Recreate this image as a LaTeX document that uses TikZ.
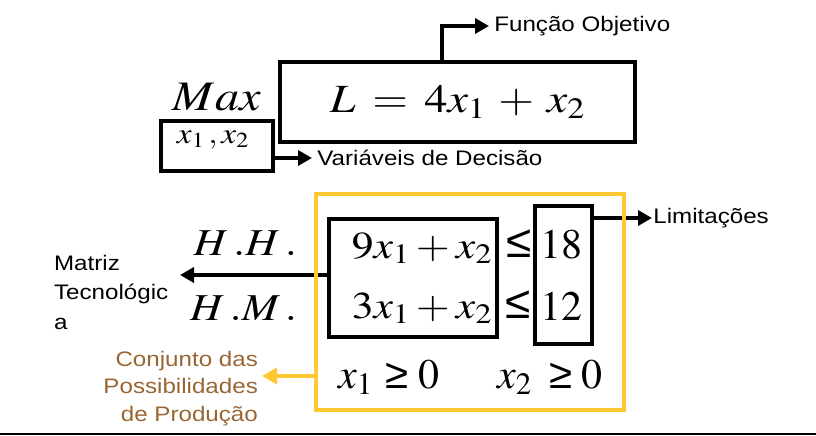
\documentclass[tikz,border=0pt]{standalone}
\usepackage{mathptmx}
\usepackage{graphicx}
\usepackage[no-math]{fontspec}
\newfontfamily\labelfont[FakeStretch=1.15]{Liberation Sans}
\newfontfamily\relfont{Liberation Sans}
\newcommand\stretchmath[1]{\scalebox{1.15}[1]{$#1$}}
\usetikzlibrary{arrows.meta}
\definecolor{possyellow}{RGB}{255,200,50}
\definecolor{possbrown}{RGB}{153,102,51}
\tikzset{every picture/.style={line width=0.75pt}}
\tikzset{
  boxframe/.style={draw, line width=4.5pt, inner sep=0pt},
  possframe/.style={draw=possyellow, line width=4.5pt, inner sep=0pt},
  mathtext/.style={inner sep=0.75pt, font=\fontsize{40}{48}\selectfont},
  labeltext/.style={inner xsep=5pt, inner ysep=0.75pt, font=\labelfont\fontsize{21}{28.5}\selectfont},
  reltext/.style={inner sep=0.75pt, font=\relfont\fontsize{46}{50}\selectfont},
  blackarrow/.style={line width=4pt, -{Triangle[length=14pt,width=15pt]}},
  possarrow/.style={draw=possyellow, line width=4pt, -{Triangle[length=15pt,width=16pt]}}
}

\begin{document}
\begin{tikzpicture}[x=1pt,y=1pt,yscale=-1,xscale=1]
\useasboundingbox (0,0) rectangle (816,436);

%Shape: Rectangle
\node [boxframe, minimum width=355pt, minimum height=80pt, font=\fontsize{40}{48}\selectfont] (lbox) at (457.5,102) {\stretchmath{L \:=\: 4x_1 \:+\: x_2}};
% Text Node
\node [mathtext, anchor=base east, font=\fontsize{42}{48}\selectfont] (maxop) at (262,110) {\stretchmath{Max}};
%Shape: Rectangle
\node [boxframe, minimum width=112pt, minimum height=50pt] (xbox) at (217,146) {};
% Text Node
\node [mathtext, anchor=base, font=\fontsize{29}{32}\selectfont] (xvars) at (213,143) {\stretchmath{x_1\,,x_2}};

% Text Node
\node [labeltext, anchor=west] (vardec) at (312,158) {Variáveis de Decisão};
\draw [blackarrow] (xbox.east |- vardec.west) -- (vardec.west);

% Text Node
\node [labeltext, anchor=west] (fobj) at (489,26) {Função Objetivo};
\coordinate (fbend) at (442,26);
\draw [blackarrow] (fbend |- lbox.north) -- (fbend) -- (fobj.west);

%Shape: Rectangle
\node [boxframe, minimum width=168pt, minimum height=118pt] (abox) at (413,278) {};
% Text Node
\node [mathtext, anchor=base, font=\fontsize{38}{44}\selectfont] (hhrow) at (422,258) {\stretchmath{9x_1 + x_2}};
% Text Node
\node [mathtext, anchor=base, font=\fontsize{38}{44}\selectfont] (hmrow) at (422,318) {\stretchmath{3x_1 + x_2}};
% Text Node
\node [reltext, anchor=base] (hhleq) at (519.5,257) {≤};
% Text Node
\node [reltext, anchor=base] (hmleq) at (518.5,318) {≤};

%Shape: Rectangle
\node [boxframe, minimum width=57pt, minimum height=138pt] (bbox) at (563.5,275) {};
% Text Node
\node [mathtext, anchor=base, font=\fontsize{42}{48}\selectfont] (hhcap) at (561,258) {$18$};
% Text Node
\node [mathtext, anchor=base, font=\fontsize{42}{48}\selectfont] (hmcap) at (561,320) {$12$};

% Text Node
\node [labeltext, anchor=west, inner xsep=1pt] (limits) at (652,218) {Limitações};
\draw [blackarrow] (bbox.east |- limits.west) -- (limits.west);

% Text Node
\node [mathtext, anchor=base east, font=\fontsize{38}{44}\selectfont] (hhlab) at (298,255) {\stretchmath{H\,.H\,.}};
% Text Node
\node [mathtext, anchor=base east, font=\fontsize{38}{44}\selectfont] (hmlab) at (298,320) {\stretchmath{H\,.M\,.}};

% Text Node
\node [labeltext, anchor=north west, align=left, inner xsep=0.75pt, font=\labelfont\fontsize{21}{29.5}\selectfont] (matriz) at (53,254) {Matriz\\Tecnológic\\a};
\coordinate (mtip) at (180,275);
\draw [blackarrow] (abox.west |- mtip) -- (mtip);

% Text Node
\node [mathtext, anchor=base west, font=\fontsize{42}{48}\selectfont] (xonepos) at (337,388) {$x_1$\hspace{13pt}{\relfont\fontsize{42}{46}\selectfont ≥}\hspace{10pt}$0$};
% Text Node
\node [mathtext, anchor=base west, font=\fontsize{42}{48}\selectfont] (xtwopos) at (496,388) {$x_2$\hspace{18pt}{\relfont\fontsize{42}{46}\selectfont ≥}\hspace{9pt}$0$};

% Text Node
\node [labeltext, anchor=north east, align=right, inner xsep=0.75pt, text=possbrown, font=\labelfont\fontsize{21}{27.5}\selectfont] (possib) at (259,350) {Conjunto das\\Possibilidades\\de Produção};
\coordinate (ptip) at (262,376);

%Shape: Rectangle
\node [possframe, minimum width=308pt, minimum height=216pt] (possbox) at (470,302) {};
\draw [possarrow] (possbox.west |- ptip) -- (ptip);

%Straight Lines
\draw [line width=1.5pt] (0,434) -- (816,434);

\end{tikzpicture}
\end{document}
